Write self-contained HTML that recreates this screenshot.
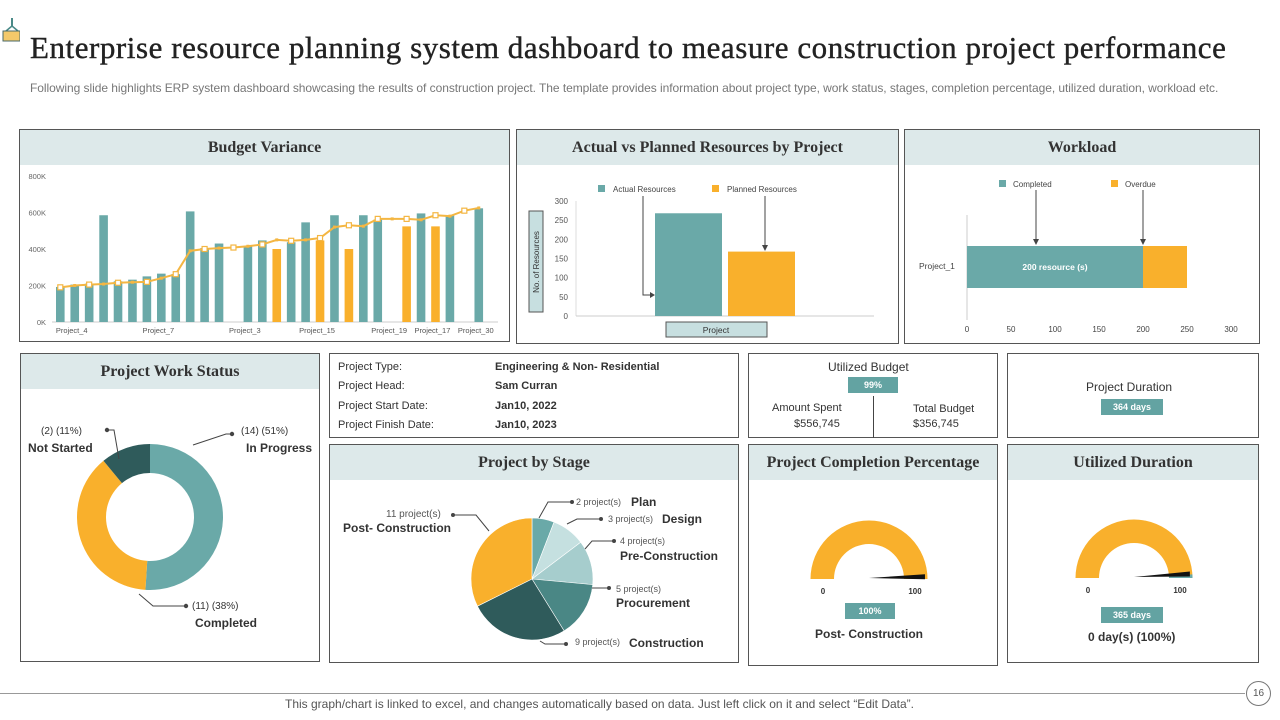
<!DOCTYPE html>
<html><head><meta charset="utf-8"><style>
*{margin:0;padding:0;box-sizing:border-box}
body{width:1280px;height:720px;background:#fff;position:relative;overflow:hidden;font-family:"Liberation Sans",sans-serif;color:#333}
.abs{position:absolute}
.panel{position:absolute;border:1px solid #555;background:#fff}
.hdr{position:absolute;left:0;right:0;top:0;height:35px;background:#dde9ea;font-family:"Liberation Serif",serif;font-weight:bold;font-size:16px;color:#333;text-align:center;line-height:35px}
.t{position:absolute;font-size:11px;color:#333;white-space:nowrap}
.badge{position:absolute;background:#63a3a2;color:#fff;font-size:9px;font-weight:bold;text-align:center}
svg text{font-family:"Liberation Sans",sans-serif}
</style></head><body>
<div class="abs" style="left:2px;top:18px;width:17px;height:22px;">
<svg width="18" height="24"><line x1="10" y1="0" x2="10" y2="8" stroke="#4a8a88" stroke-width="2"/><path d="M4 13 L10 8 L16 13" stroke="#4a8a88" fill="none" stroke-width="1.5"/><rect x="1" y="13" width="17" height="10" fill="#f4c96a" stroke="#4a6a6a"/></svg></div>
<div class="abs" style="left:30px;top:30px;font-family:'Liberation Serif',serif;font-size:31px;letter-spacing:0.55px;color:#222;white-space:nowrap;-webkit-text-stroke:0.4px #222">Enterprise resource planning system dashboard to measure construction project performance</div>
<div class="abs" style="left:30px;top:81px;font-size:12px;letter-spacing:-0.05px;color:#777;white-space:nowrap">Following slide highlights ERP system dashboard showcasing the results of construction project. The template provides information about project type,  work status, stages, completion percentage, utilized duration, workload etc.</div>

<!-- Budget Variance -->
<div class="panel" style="left:19px;top:129px;width:491px;height:213px">
<div class="hdr">Budget Variance</div>
<svg id="bv" class="abs" style="left:0;top:0" width="489" height="211"></svg>
</div>

<!-- Actual vs Planned -->
<div class="panel" style="left:516px;top:129px;width:383px;height:215px">
<div class="hdr">Actual vs Planned Resources by Project</div>
<svg id="rs" class="abs" style="left:0;top:0" width="381" height="213"></svg>
</div>

<!-- Workload -->
<div class="panel" style="left:904px;top:129px;width:356px;height:215px">
<div class="hdr">Workload</div>
<svg id="wl" class="abs" style="left:0;top:0" width="354" height="213"></svg>
</div>

<!-- Work status -->
<div class="panel" style="left:20px;top:353px;width:300px;height:309px">
<div class="hdr">Project Work Status</div>
<svg id="ws" class="abs" style="left:0;top:0" width="298" height="307"></svg>
</div>

<!-- Info -->
<div class="panel" style="left:329px;top:353px;width:410px;height:85px">
<div class="t" style="left:8px;top:7px">Project Type:</div><div class="t" style="left:165px;top:7px;font-weight:bold">Engineering &amp; Non- Residential</div>
<div class="t" style="left:8px;top:26px">Project Head:</div><div class="t" style="left:165px;top:26px;font-weight:bold">Sam Curran</div>
<div class="t" style="left:8px;top:46px">Project Start Date:</div><div class="t" style="left:165px;top:46px;font-weight:bold">Jan10, 2022</div>
<div class="t" style="left:8px;top:65px">Project Finish Date:</div><div class="t" style="left:165px;top:65px;font-weight:bold">Jan10, 2023</div>
</div>

<div class="panel" style="left:748px;top:353px;width:250px;height:85px">
<div class="t" style="left:79px;top:6px;font-size:12px">Utilized  Budget</div>
<div class="badge" style="left:99px;top:23px;width:50px;height:16px;line-height:16px">99%</div>
<div class="abs" style="left:124px;top:42px;width:1px;height:42px;background:#444"></div>
<div class="t" style="left:23px;top:48px">Amount Spent</div><div class="t" style="left:45px;top:64px">$556,745</div>
<div class="t" style="left:164px;top:49px">Total Budget</div><div class="t" style="left:164px;top:64px">$356,745</div>
</div>

<div class="panel" style="left:1007px;top:353px;width:252px;height:85px">
<div class="t" style="left:78px;top:26px;font-size:12px">Project Duration</div>
<div class="badge" style="left:93px;top:45px;width:62px;height:16px;line-height:16px">364 days</div>
</div>

<!-- Project by stage -->
<div class="panel" style="left:329px;top:444px;width:410px;height:219px">
<div class="hdr">Project by Stage</div>
<svg id="st" class="abs" style="left:0;top:0" width="408" height="217"></svg>
</div>

<!-- Completion -->
<div class="panel" style="left:748px;top:444px;width:250px;height:222px">
<div class="hdr">Project Completion Percentage</div>
<svg id="g1" class="abs" style="left:0;top:0" width="248" height="220"></svg>
<div class="badge" style="left:96px;top:158px;width:50px;height:16px;line-height:16px">100%</div>
<div class="t" style="left:66px;top:182px;font-size:12px;font-weight:bold">Post- Construction</div>
</div>

<div class="panel" style="left:1007px;top:444px;width:252px;height:219px">
<div class="hdr">Utilized Duration</div>
<svg id="g2" class="abs" style="left:0;top:0" width="250" height="217"></svg>
<div class="badge" style="left:93px;top:162px;width:62px;height:16px;line-height:16px">365 days</div>
<div class="t" style="left:80px;top:185px;font-size:12px;font-weight:bold">0 day(s) (100%)</div>
</div>

<div class="abs" style="left:0;top:693px;width:1245px;height:1px;background:#999"></div>
<div class="abs" style="left:1246px;top:681px;width:25px;height:25px;border:1px solid #777;border-radius:50%;font-size:10px;text-align:center;line-height:23px;color:#555">16</div>
<div class="abs" style="left:285px;top:697px;font-size:12px;color:#555;white-space:nowrap">This graph/chart is linked to excel,  and changes automatically based on data. Just left click on it and select “Edit Data”.</div>

<script>
const NS="http://www.w3.org/2000/svg";
function mk(p,tag,a,txt){const e=document.createElementNS(NS,tag);for(const k in a)e.setAttribute(k,a[k]);if(txt!==undefined)e.textContent=txt;p.appendChild(e);return e;}
const TEAL="#6aa9a8",ORG="#f9b02c",DARK="#2f5b5b";

// Budget variance data
const bvLabels=["","Project_4","","","","","","Project_7","","","","","","Project_3","","","","","Project_15","","","","","Project_19","","","Project_17","","","Project_30"];
const bvValues=[192,205,210,585,223,232,250,265,262,606,405,430,0,415,447,400,437,546,447,585,400,585,561,0,524,595,524,585,0,623];
const bvOver=[0,0,0,0,0,0,0,0,0,0,0,0,0,0,0,1,0,0,1,0,1,0,0,0,1,0,1,0,0,0];
const bvLine=[190,200,205,208,215,218,220,240,262,390,400,405,408,415,425,450,445,450,460,520,530,525,565,565,565,560,585,580,610,625];
const bvTicks=[0,200,400,600,800];
(function(){
 const s=document.getElementById("bv");
 const y=v=>192-v/800*146, x=i=>40.3+i*14.43;
 bvTicks.forEach(t=>{const e=mk(s,"text",{x:26,y:y(t)+3,"font-size":7.5,fill:"#666","text-anchor":"end"},t+"K");
  });
 mk(s,"line",{x1:32,x2:478,y1:y(0),y2:y(0),stroke:"#ccc"});
 bvValues.forEach((v,i)=>{if(!v)return;const r=mk(s,"rect",{x:x(i)-4.3,y:y(v),width:8.6,height:y(0)-y(v),fill:bvOver[i]?ORG:TEAL});
  });
 const pl=mk(s,"polyline",{points:bvLine.map((v,i)=>x(i)+","+y(v)).join(" "),fill:"none",stroke:"#f4b642","stroke-width":2});
 
 bvLine.forEach((v,i)=>{const m=i%2==0?mk(s,"rect",{x:x(i)-2.5,y:y(v)-2.5,width:5,height:5,fill:"#fff",stroke:"#f4b642","stroke-width":1.2}):mk(s,"rect",{x:x(i)-1.5,y:y(v)-1.5,width:3,height:3,fill:"#f4b642"});
  });
 bvLabels.forEach((l,i)=>{if(!l)return;const e=mk(s,"text",{x:x(i)-3,y:203,"font-size":7.5,fill:"#555","text-anchor":"middle"},l);
  });
})();

// Resources
const rsSeries=["Actual Resources","Planned  Resources"];
const rsValues=[268,168];
const rsTicks=[0,50,100,150,200,250,300];
(function(){
 const s=document.getElementById("rs");
 const y=v=>186-v/300*115;
 rsTicks.forEach(t=>{const e=mk(s,"text",{x:51,y:y(t)+3,"font-size":8,fill:"#555","text-anchor":"end"},t);
  });
 mk(s,"line",{x1:59,x2:59,y1:y(300),y2:y(0),stroke:"#ddd"});
 mk(s,"line",{x1:59,x2:357,y1:y(0),y2:y(0),stroke:"#ccc"});
 const cols=[TEAL,ORG],bx=[138,211];
 rsValues.forEach((v,i)=>{const r=mk(s,"rect",{x:bx[i],y:y(v),width:67,height:y(0)-y(v),fill:cols[i]});
  });
 const lx=[81,195];
 rsSeries.forEach((n,i)=>{mk(s,"rect",{x:lx[i],y:55,width:7,height:7,fill:cols[i]});
  const e=mk(s,"text",{x:lx[i]+15,y:62,"font-size":8,fill:"#444"},n);});
 mk(s,"path",{d:"M126 66 V165 H136",stroke:"#444",fill:"none"});mk(s,"path",{d:"M133 162 L138 165 L133 168Z",fill:"#444"});
 mk(s,"path",{d:"M248 66 V118",stroke:"#444",fill:"none"});mk(s,"path",{d:"M245 115 L248 121 L251 115Z",fill:"#444"});
 mk(s,"rect",{x:12,y:81,width:14,height:101,fill:"#c7dfe0",stroke:"#555"});
 mk(s,"text",{x:22,y:132,"font-size":8,fill:"#333","text-anchor":"middle",transform:"rotate(-90 22 132)"},"No. of Resources");
 mk(s,"rect",{x:149,y:192,width:101,height:15,fill:"#c7dfe0",stroke:"#555"});
 mk(s,"text",{x:199,y:203,"font-size":8.5,fill:"#333","text-anchor":"middle"},"Project");
})();

// Workload
const wlSeries=["Completed","Overdue"];
const wlValues=[200,50];
const wlTicks=[0,50,100,150,200,250,300];
(function(){
 const s=document.getElementById("wl");
 const x=v=>62+v/300*264;
 wlTicks.forEach(t=>{const e=mk(s,"text",{x:x(t),y:202,"font-size":8,fill:"#444","text-anchor":"middle"},t);
  });
 mk(s,"line",{x1:62,x2:62,y1:85,y2:190,stroke:"#ccc"});
 let acc=0;const cols=[TEAL,ORG];
 wlValues.forEach((v,i)=>{const r=mk(s,"rect",{x:x(acc),y:116,width:x(acc+v)-x(acc),height:42,fill:cols[i]});
  acc+=v;});
 mk(s,"text",{x:(x(0)+x(wlValues[0]))/2,y:140,"font-size":8.5,fill:"#fff","font-weight":"bold","text-anchor":"middle"},"200 resource (s)");
 mk(s,"text",{x:14,y:139,"font-size":8.5,fill:"#444"},"Project_1");
 const lx=[94,206];
 wlSeries.forEach((n,i)=>{mk(s,"rect",{x:lx[i],y:50,width:7,height:7,fill:cols[i]});
  const e=mk(s,"text",{x:lx[i]+14,y:57,"font-size":8,fill:"#444"},n);});
 [131,x(wlValues[0])].forEach(ax=>{mk(s,"line",{x1:ax,x2:ax,y1:60,y2:112,stroke:"#444"});mk(s,"path",{d:`M${ax-3} 109 L${ax} 115 L${ax+3} 109Z`,fill:"#444"});});
})();

function arc(cx,cy,r0,r1,a0,a1){ // angles in degrees, 0 = top, clockwise
 const p=(r,a)=>[cx+r*Math.sin(a*Math.PI/180),cy-r*Math.cos(a*Math.PI/180)];
 const lg=(a1-a0)>180?1:0;const A=p(r1,a0),B=p(r1,a1),C=p(r0,a1),D=p(r0,a0);
 if(r0===0)return `M${cx} ${cy} L${A} A${r1} ${r1} 0 ${lg} 1 ${B} Z`;
 return `M${A} A${r1} ${r1} 0 ${lg} 1 ${B} L${C} A${r0} ${r0} 0 ${lg} 0 ${D} Z`;
}

// Work status donut
const wsLabels=["In Progress","Completed","Not Started"];
const wsValues=[51,38,11];
(function(){
 const s=document.getElementById("ws");const cols=[TEAL,ORG,DARK];
 let a=0;const tot=wsValues.reduce((p,c)=>p+c,0);
 wsValues.forEach((v,i)=>{const b=a+v/tot*360;const e=mk(s,"path",{d:arc(129,163,44,73,a,b),fill:cols[i]});
  a=b;});
 const L=(x1,y1,x2,y2,x3,y3)=>{mk(s,"polyline",{points:`${x1},${y1} ${x2},${y2} ${x3},${y3}`,fill:"none",stroke:"#444"});mk(s,"circle",{cx:x3,cy:y3,r:2.2,fill:"#444"});};
 L(172,91,205,80,211,80);L(98,105,93,76,86,76);L(118,240,132,252,165,252);
 mk(s,"text",{x:220,y:80,"font-size":10,fill:"#333"},"(14) (51%)");
 mk(s,"text",{x:225,y:98,"font-size":12,fill:"#333","font-weight":"bold"},"In Progress");
 mk(s,"text",{x:20,y:80,"font-size":10,fill:"#333"},"(2) (11%)");
 mk(s,"text",{x:7,y:98,"font-size":12,fill:"#333","font-weight":"bold"},"Not Started");
 mk(s,"text",{x:171,y:255,"font-size":10,fill:"#333"},"(11) (38%)");
 mk(s,"text",{x:174,y:273,"font-size":12,fill:"#333","font-weight":"bold"},"Completed");
})();

// Stage pie
const stLabels=["Plan","Design","Pre-Construction","Procurement","Construction","Post- Construction"];
const stValues=[2,3,4,5,9,11];
(function(){
 const s=document.getElementById("st");const cols=[TEAL,"#c5e0e0","#a6cdcd","#4a8785",DARK,ORG];
 const tot=stValues.reduce((p,c)=>p+c,0);let a=0;
 stValues.forEach((v,i)=>{const b=a+v/tot*360;const e=mk(s,"path",{d:arc(202,134,0,61,a,b),fill:cols[i],stroke:"#fff","stroke-width":0.6});
  a=b;});
 const L=(pts,cx,cy)=>{mk(s,"polyline",{points:pts,fill:"none",stroke:"#444"});mk(s,"circle",{cx,cy,r:2,fill:"#444"});};
 L("209,73 218,57 242,57",242,57);L("237,79 247,74 271,74",271,74);L("255,104 262,96 284,96",284,96);L("262,143 279,143",279,143);L("210,196 215,199 236,199",236,199);L("159,86 146,70 123,70",123,70);
 const T=(x,y,t,f,b)=>mk(s,"text",{x,y,"font-size":f,fill:b?"#333":"#555","font-weight":b?"bold":"normal"},t);
 T(246,60,"2 project(s)",9);T(301,61,"Plan",12,1);
 T(278,77,"3 project(s)",9);T(332,78,"Design",12,1);
 T(290,99,"4 project(s)",9);T(290,115,"Pre-Construction",12,1);
 T(286,147,"5 project(s)",9);T(286,162,"Procurement",12,1);
 T(245,200,"9 project(s)",9);T(299,202,"Construction",12,1);
 T(56,72,"11 project(s)",10);T(13,87,"Post- Construction",12,1);
})();

// Gauges
const gaugeValues=[100,98];
function gauge(id,val,cx,cy,teal){
 const s=document.getElementById(id);
 const e=mk(s,"path",{d:arc(cx,cy,35,58.5,-90,90),fill:ORG});
 if(teal)mk(s,"path",{d:arc(cx,cy,35,58.5,-90+val/100*180,90),fill:TEAL});
 const ang=(-90+Math.min(val,99)/100*180)*Math.PI/180;
 const tx=cx+56*Math.sin(ang),ty=cy-56*Math.cos(ang);
 const n=mk(s,"path",{d:`M${cx} ${cy-1} L${tx} ${ty-3} L${tx} ${ty+2} Z`,fill:"#111"});
 
 mk(s,"text",{x:cx-46,y:cy+15,"font-size":8,fill:"#333","font-weight":"bold","text-anchor":"middle"},"0");
 mk(s,"text",{x:cx+46,y:cy+15,"font-size":8,fill:"#333","font-weight":"bold","text-anchor":"middle"},"100");
}
gauge("g1",gaugeValues[0],120,134,false);
gauge("g2",gaugeValues[1],126,133,true);
</script>
</body></html>
